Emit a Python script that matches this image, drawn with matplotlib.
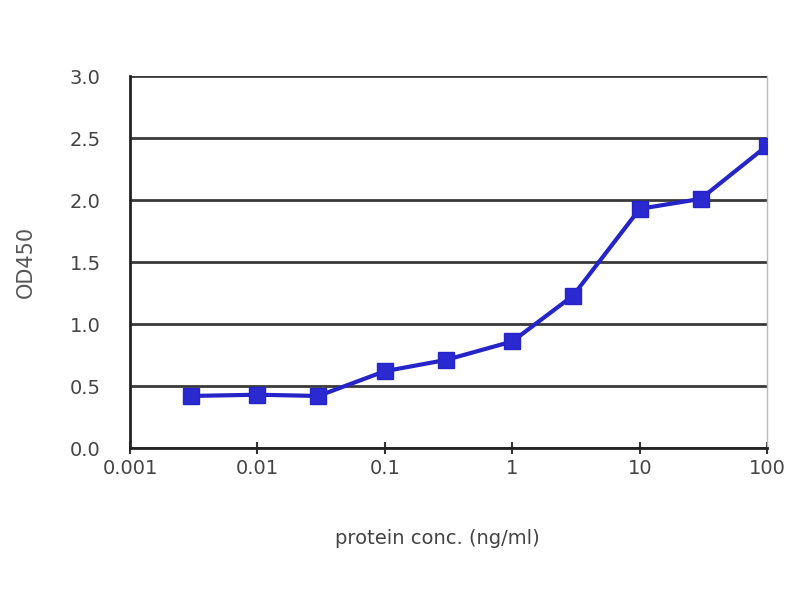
import matplotlib
matplotlib.use("Agg")
import matplotlib.pyplot as plt
from matplotlib.ticker import FixedLocator, NullLocator

# data
conc = [0.003, 0.01, 0.03, 0.1, 0.3, 1, 3, 10, 30, 100]
od450 = [0.42, 0.43, 0.42, 0.62, 0.71, 0.86, 1.23, 1.93, 2.01, 2.44]

x_ticks = [0.001, 0.01, 0.1, 1, 10, 100]
x_tick_labels = ["0.001", "0.01", "0.1", "1", "10", "100"]
y_ticks = [0.0, 0.5, 1.0, 1.5, 2.0, 2.5, 3.0]

fig = plt.figure(figsize=(8, 6), dpi=100)
ax = fig.add_axes([0.1625, 0.2533, 0.7965, 0.6197])

ax.plot(conc, od450, color="#2424c8", linewidth=3, marker="s",
        markersize=11, markerfacecolor="#2a2ad0", markeredgecolor="#2424c8",
        zorder=3)

ax.set_xscale("log")
ax.set_xlim(0.001, 100)
ax.set_ylim(0, 3.0)
ax.xaxis.set_major_locator(FixedLocator(x_ticks))
ax.xaxis.set_minor_locator(NullLocator())
ax.set_xticklabels(x_tick_labels)
ax.set_yticks(y_ticks)
ax.set_yticklabels([f"{v:.1f}" for v in y_ticks])

ax.grid(axis="y", color="#3a3a3a", linewidth=2)
ax.set_axisbelow(True)

for side in ["left", "bottom"]:
    ax.spines[side].set_color("#222222")
    ax.spines[side].set_linewidth(2)
ax.spines["top"].set_visible(False)
ax.spines["right"].set_color("#bbbbbb")
ax.spines["right"].set_linewidth(1)

ax.tick_params(axis="x", direction="inout", length=8, width=1.5,
               color="#333333", labelsize=14, labelcolor="#444444", pad=4)
ax.tick_params(axis="y", length=0, labelsize=14, labelcolor="#444444", pad=21)

ax.set_xlabel("protein conc. (ng/ml)", fontsize=14, color="#444444")
ax.xaxis.set_label_coords(0.483, -0.218)
ax.set_ylabel("OD450", fontsize=15, color="#555555")
ax.yaxis.set_label_coords(-0.148, 0.5)

fig.savefig("out.png", dpi=100)
